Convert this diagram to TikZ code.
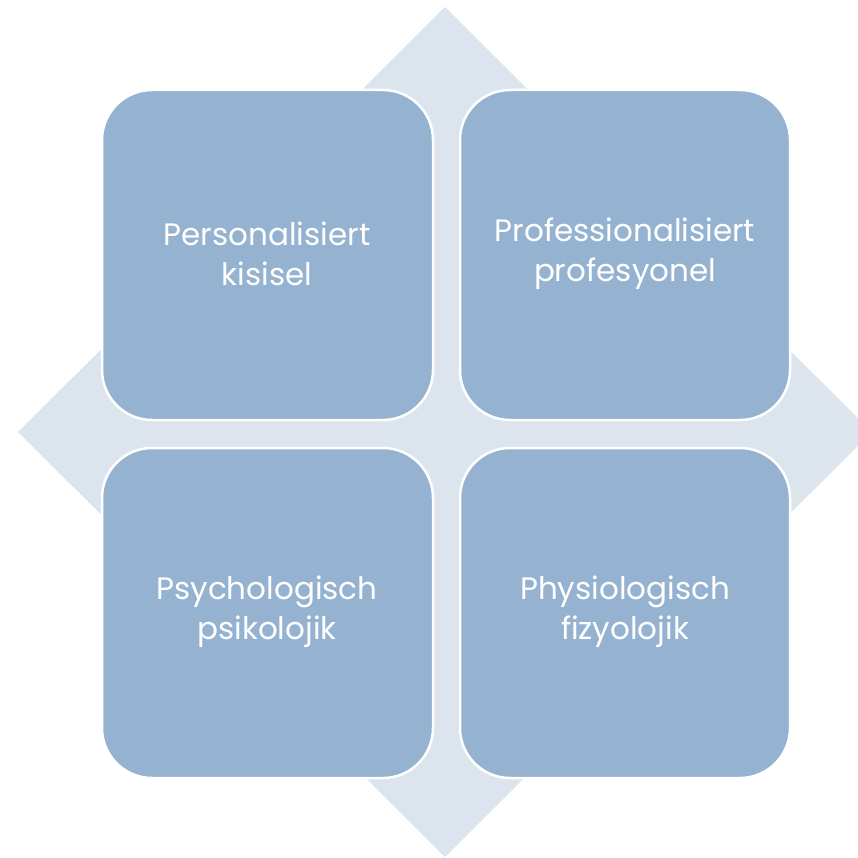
\documentclass[tikz,border=0pt]{standalone}
\usepackage{fontspec}
\setmainfont{Poppins}
\definecolor{boxfill}{HTML}{95B3D1}
\definecolor{diafill}{HTML}{DCE4EE}
\begin{document}
\begin{tikzpicture}[x=1pt,y=-1pt,
  cell/.style={fill=boxfill,draw=white,line width=2.5pt,rounded corners=50pt},
  lbl/.style={text=white,font=\fontsize{31}{40}\selectfont,align=center}]
\useasboundingbox (0,0) rectangle (857,858);
\fill[diafill] (445,7) -- (872,432) -- (445,857) -- (18,432) -- cycle;
\draw[cell] (102,90) rectangle (433,420);
\draw[cell] (460,90) rectangle (790,420);
\draw[cell] (102,448) rectangle (433,778);
\draw[cell] (460,448) rectangle (790,778);
\node[lbl] (tl) at (267,254) {Personalisiert\\kisisel};
\node[lbl] (tr) at (625,254) {Professionalisiert\\profesyonel};
\node[lbl] (bl) at (267,612) {Psychologisch\\psikolojik};
\node[lbl] (br) at (625,612) {Physiologisch\\fizyolojik};
\end{tikzpicture}
\end{document}
